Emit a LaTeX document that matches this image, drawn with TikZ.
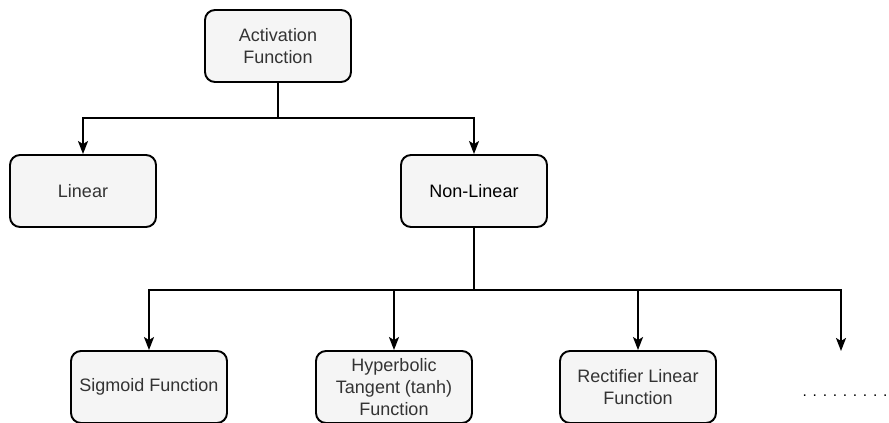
\documentclass[tikz,border=0pt]{standalone}
\usepackage{fontspec}
\setmainfont{Liberation Sans}
\usetikzlibrary{arrows.meta}
\definecolor{boxfill}{HTML}{F5F5F5}
\definecolor{boxtext}{HTML}{333333}
\tikzset{
  box/.style={draw=black, line width=1.9pt, fill=boxfill, rounded corners=10pt,
    minimum width=146pt, minimum height=72pt, align=center, text=boxtext,
    font=\fontsize{18}{22}\selectfont, inner sep=2pt},
  lowbox/.style={box, minimum width=156pt},
  link/.style={line width=1.9pt, draw=black},
  arrowlink/.style={link, -{Stealth[length=13pt,width=10pt,inset=3pt]}},
}
\begin{document}
\begin{tikzpicture}[x=1pt,y=-1pt]
\useasboundingbox (0,0) rectangle (889,423);

% top level
\node[box] (act) at (278,46) {Activation\\Function};

% second level
\node[box] (lin) at (83,191) {Linear};
\node[box, text=black] (nl) at (474,191) {Non-Linear};

% third level
\node[lowbox] (sig) at (149,387) {Sigmoid Function};
\node[lowbox] (tanh) at (394,387) {Hyperbolic\\Tangent (tanh)\\Function};
\node[lowbox] (relu) at (638,387) {Rectifier Linear\\Function};
\node[text=black, font=\fontsize{15.5}{20}\selectfont] (more) at (845,396) {. . . . . . . . .};

% junctions and open end
\coordinate (j1) at (278,118);
\coordinate (j2) at (474,290);
\coordinate (tail) at (841,351);

% connectors
\draw[link] (act.south) -- (j1);
\draw[arrowlink] (j1) -| (lin.north);
\draw[arrowlink] (j1) -| (nl.north);
\draw[link] (nl.south) -- (j2);
\draw[arrowlink] (j2) -| (sig.north);
\draw[arrowlink] (j2) -| (tanh.north);
\draw[arrowlink] (j2) -| (relu.north);
\draw[arrowlink] (j2) -| (tail);
\end{tikzpicture}
\end{document}
